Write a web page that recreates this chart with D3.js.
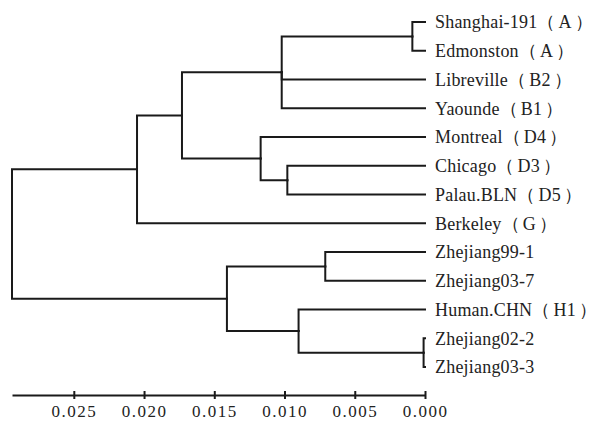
<!DOCTYPE html>
<html>
<head>
<meta charset="utf-8">
<script src="https://cdn.jsdelivr.net/npm/d3@7"></script>
<style>
    body{ margin:0; background:white; }
    svg{ display:block; }
</style>
</head>
<body>
<div id="chart"></div>
<script>
var W = 597, H = 423;

// tips, top to bottom, and the node each one hangs from
var tipNames = ["Shanghai-191（A）","Edmonston（A）","Libreville（B2）","Yaounde（B1）",
    "Montreal（D4）","Chicago（D3）","Palau.BLN（D5）","Berkeley（G）",
    "Zhejiang99-1","Zhejiang03-7","Human.CHN（H1）","Zhejiang02-2","Zhejiang03-3"];
var tipParents = ["A","A","N3","N3","N4","N5","N5","N1","N7","N7","N8","N9","N9"];

// inner nodes, their parents and heights (distance)
var innerNodes   = ["root","N1","N2","N3","A","N4","N5","N6","N7","N8","N9"];
var innerParents = ["","root","N1","N2","N3","N2","N4","root","N6","N6","N8"];
var innerHeights = [0.0294,0.0205,0.0173,0.0102,0.0009,0.0117,0.0098,0.0141,0.0071,0.0090,0.0001];

var axisTicks = [0.025,0.020,0.015,0.010,0.005,0.000];

var rows = [];
innerNodes.forEach(function(id,i){
    rows.push({id:id, parent:innerParents[i] || null, height:innerHeights[i], tip:-1});
});
tipNames.forEach(function(name,i){
    rows.push({id:name, parent:tipParents[i], height:0, tip:i});
});

var root = d3.stratify()
    .id(function(d){ return d.id; })
    .parentId(function(d){ return d.parent; })(rows);

// order children by first tip they hold
root.eachAfter(function(n){
    n.first = n.children ? d3.min(n.children, function(c){ return c.first; }) : n.data.tip;
});
root.sort(function(a,b){ return a.first - b.first; });

var x = d3.scaleLinear().domain([innerHeights[0], 0]).range([12, 425]);
var y = d3.scalePoint().domain(tipNames).range([22, 367]);

root.eachAfter(function(n){
    n.px = x(n.data.height);
    if(n.children){
        n.py = (n.children[0].py + n.children[n.children.length-1].py)/2;
    } else {
        n.py = y(n.data.id);
    }
});

var svg = d3.select("#chart").append("svg")
    .attr("width", W)
    .attr("height", H);

svg.append("g")
    .selectAll("path")
    .data(root.links())
    .enter()
    .append("path")
    .attr("d", function(l){
        return "M"+l.source.px+","+l.source.py+"V"+l.target.py+"H"+l.target.px;
    })
    .style("fill","none")
    .style("stroke","#1a1a1a")
    .style("stroke-width",2)
    .style("stroke-linecap","square");

var labels = svg.append("g")
    .selectAll("text")
    .data(root.leaves())
    .enter()
    .append("text")
    .attr("x", function(d){ return d.px + 10; })
    .attr("y", function(d){ return d.py; })
    .attr("dy","0.35em")
    .style("font-family","'Liberation Serif','Times New Roman',serif")
    .style("font-size","18px")
    .style("letter-spacing","0.2px")
    .style("fill","#222");

// name, then the genotype in wide brackets
labels.each(function(d){
    var t = d3.select(this);
    var s = d.data.id;
    var k = s.indexOf("（");
    if(k < 0){
        t.text(s);
        return;
    }
    t.append("tspan").text(s.slice(0,k));
    t.append("tspan").text("（");
    t.append("tspan").attr("dx",3).text(s.slice(k+1, s.length-1));
    t.append("tspan").attr("dx",3).text("）");
});

var axis = d3.axisBottom(x)
    .tickValues(axisTicks)
    .tickFormat(d3.format(".3f"))
    .tickSizeInner(4)
    .tickSizeOuter(0)
    .tickPadding(6);

var gAxis = svg.append("g")
    .attr("transform","translate(0,395)")
    .call(axis);

gAxis.select(".domain")
    .style("stroke","#1a1a1a")
    .style("stroke-width",2);
gAxis.selectAll(".tick line")
    .attr("y1",-4)
    .attr("y2",4)
    .style("stroke","#1a1a1a")
    .style("stroke-width",2);
gAxis.selectAll(".tick text")
    .style("font-family","'Liberation Serif','Times New Roman',serif")
    .style("font-size","17px")
    .style("letter-spacing","1.5px")
    .style("fill","#222");
</script>
</body>
</html>
